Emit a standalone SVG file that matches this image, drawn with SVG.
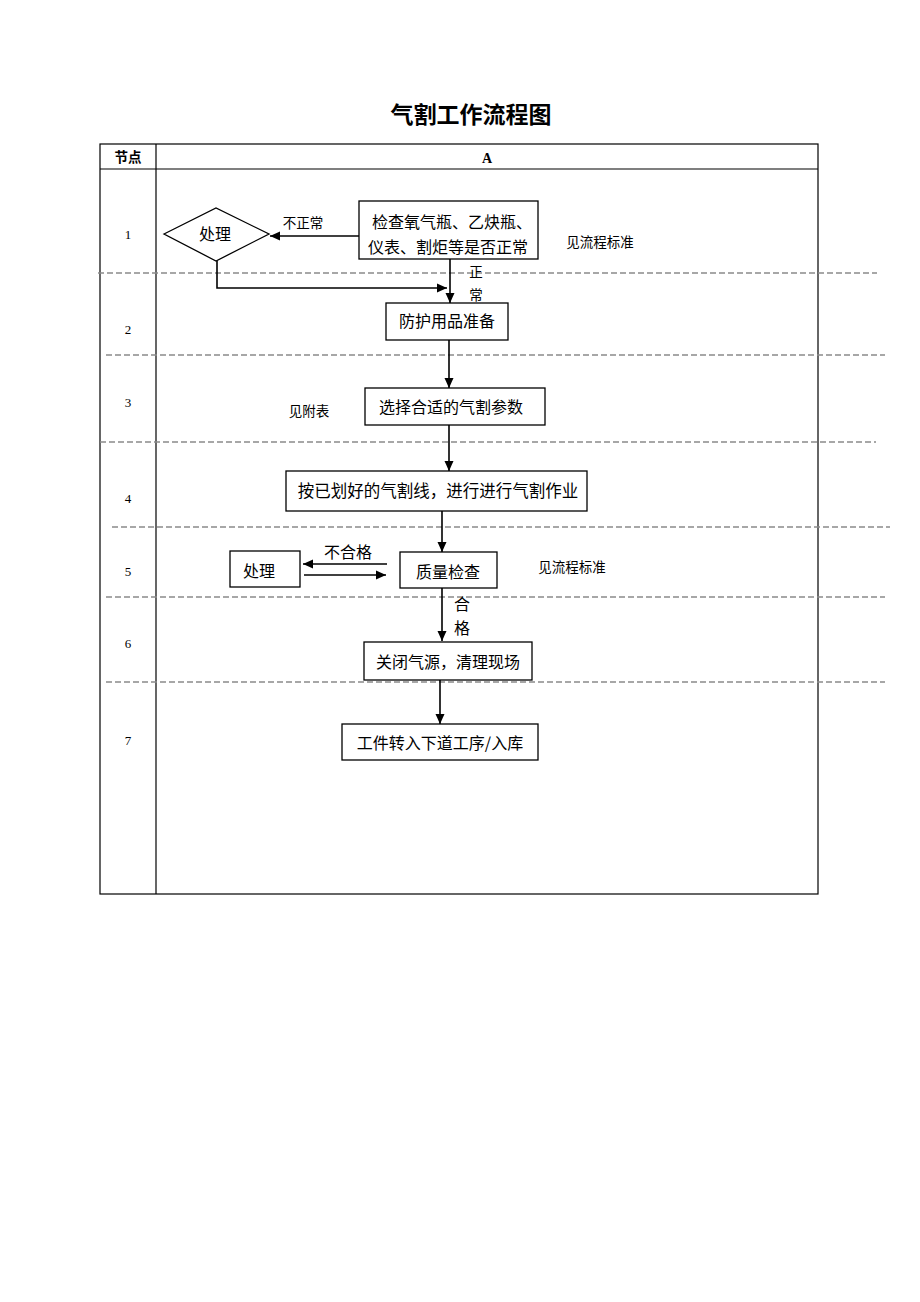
<svg xmlns="http://www.w3.org/2000/svg" width="920" height="1302" viewBox="0 0 920 1302">
<style>
.t{font-family:"Noto Sans CJK SC","Liberation Serif",serif;fill:#000}
.n{font-family:"Liberation Serif",serif;font-size:13px;fill:#000}
.box{fill:#fff;stroke:#000;stroke-width:1.3}
.c{fill:none;stroke:#000;stroke-width:1.6}
.d{stroke:#8a8a8a;stroke-width:1.3;stroke-dasharray:6,3}
.g{stroke:#000;stroke-width:1.2;fill:none}
</style>
<defs>
<marker id="a" markerWidth="12" markerHeight="12" refX="10" refY="5.5" orient="auto" markerUnits="userSpaceOnUse"><path d="M0,1 L10,5.5 L0,10 Z" fill="#000"/></marker>
</defs>
<rect width="920" height="1302" fill="#fff"/>
<text class="t" x="471" y="123" font-size="23" font-weight="bold" text-anchor="middle">气割工作流程图</text>
<g id="table">
<rect class="g" x="100" y="144" width="718" height="750"/>
<line class="g" x1="100" y1="169" x2="818" y2="169"/>
<line class="g" x1="156" y1="144" x2="156" y2="894"/>
<text class="t" x="128" y="162" font-size="13.5" font-weight="bold" text-anchor="middle">节点</text>
<text x="487" y="163" font-family="Liberation Serif,serif" font-size="14" font-weight="bold" text-anchor="middle">A</text>
<text class="n" x="128" y="239" text-anchor="middle">1</text>
<text class="n" x="128" y="334" text-anchor="middle">2</text>
<text class="n" x="128" y="407" text-anchor="middle">3</text>
<text class="n" x="128" y="503" text-anchor="middle">4</text>
<text class="n" x="128" y="576" text-anchor="middle">5</text>
<text class="n" x="128" y="648" text-anchor="middle">6</text>
<text class="n" x="128" y="745" text-anchor="middle">7</text>
<line class="d" x1="98" y1="273" x2="877" y2="273"/>
<line class="d" x1="106" y1="355" x2="885" y2="355"/>
<line class="d" x1="100" y1="442" x2="876" y2="442"/>
<line class="d" x1="112" y1="527" x2="890" y2="527"/>
<line class="d" x1="106" y1="597" x2="885" y2="597"/>
<line class="d" x1="106" y1="682" x2="885" y2="682"/>
</g>
<g id="connectors">
<line class="c" x1="359" y1="236" x2="270" y2="236" marker-end="url(#a)"/>
<polyline class="c" points="217,261 217,288 447,288" marker-end="url(#a)"/>
<line class="c" x1="450" y1="259" x2="450" y2="303" marker-end="url(#a)"/>
<line class="c" x1="449" y1="340" x2="449" y2="388" marker-end="url(#a)"/>
<line class="c" x1="449" y1="425" x2="449" y2="471" marker-end="url(#a)"/>
<line class="c" x1="442" y1="511" x2="442" y2="552" marker-end="url(#a)"/>
<line class="c" x1="387" y1="564" x2="303" y2="564" marker-end="url(#a)"/>
<line class="c" x1="304" y1="575" x2="386" y2="575" marker-end="url(#a)"/>
<line class="c" x1="442" y1="588" x2="442" y2="641" marker-end="url(#a)"/>
<line class="c" x1="440" y1="680" x2="440" y2="724" marker-end="url(#a)"/>
<text class="t" x="303" y="228" font-size="13.5" text-anchor="middle">不正常</text>
<text class="t" x="476" y="277" font-size="13.5" text-anchor="middle">正</text>
<text class="t" x="476" y="300" font-size="13.5" text-anchor="middle">常</text>
<text class="t" x="348" y="558" font-size="16" text-anchor="middle">不合格</text>
<text class="t" x="462" y="610" font-size="16" text-anchor="middle">合</text>
<text class="t" x="462" y="634" font-size="16" text-anchor="middle">格</text>
</g>
<g id="n1diamond">
<polygon class="box" points="164,234 216,208 269,234 216,261"/>
<text class="t" x="215" y="240" font-size="16" text-anchor="middle">处理</text>
</g>
<g id="n1check">
<rect class="box" x="359" y="201" width="179" height="58"/>
<text class="t" x="452" y="228" font-size="16" text-anchor="middle">检查氧气瓶、乙炔瓶、</text>
<text class="t" x="448" y="253" font-size="16" text-anchor="middle">仪表、割炬等是否正常</text>
</g>
<text class="t" x="600" y="247" font-size="13.5" text-anchor="middle">见流程标准</text>
<g id="n2">
<rect class="box" x="386" y="303" width="122" height="37"/>
<text class="t" x="447" y="327" font-size="16" text-anchor="middle">防护用品准备</text>
</g>
<g id="n3">
<rect class="box" x="365" y="388" width="180" height="37"/>
<text class="t" x="451" y="413" font-size="16" text-anchor="middle">选择合适的气割参数</text>
</g>
<text class="t" x="309" y="416" font-size="13.5" text-anchor="middle">见附表</text>
<g id="n4">
<rect class="box" x="286" y="471" width="301" height="40"/>
<text class="t" x="438" y="497" font-size="16.5" text-anchor="middle">按已划好的气割线，进行进行气割作业</text>
</g>
<g id="n5">
<rect class="box" x="400" y="552" width="97" height="36"/>
<text class="t" x="448" y="578" font-size="16" text-anchor="middle">质量检查</text>
</g>
<g id="n5proc">
<rect class="box" x="230" y="551" width="70" height="36"/>
<text class="t" x="259" y="577" font-size="16" text-anchor="middle">处理</text>
</g>
<text class="t" x="572" y="572" font-size="13.5" text-anchor="middle">见流程标准</text>
<g id="n6">
<rect class="box" x="364" y="642" width="168" height="38"/>
<text class="t" x="448" y="668" font-size="16" text-anchor="middle">关闭气源，清理现场</text>
</g>
<g id="n7">
<rect class="box" x="342" y="724" width="196" height="36"/>
<text class="t" x="440" y="749" font-size="16" text-anchor="middle">工件转入下道工序/入库</text>
</g>
</svg>
